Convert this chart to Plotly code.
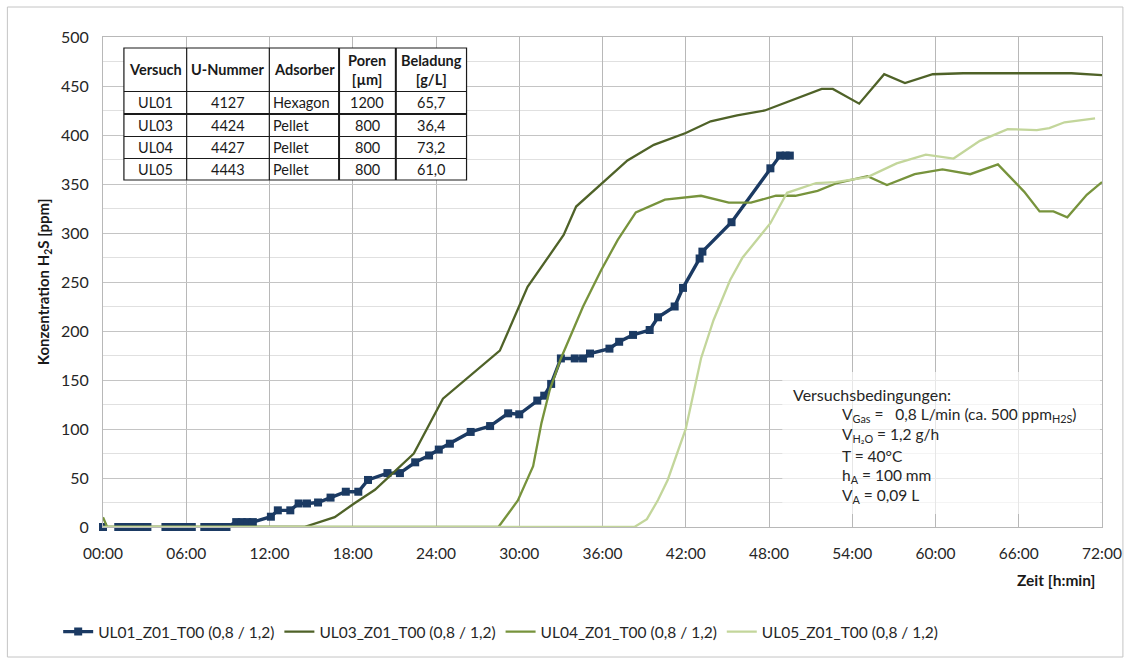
import plotly.graph_objects as go

# ---------------- data (time in hours, concentration in ppm) ----------------
ul01_t = [0, None, 1.1, 1.5, 1.9, 2.4, None, 2.7, 3.2, None, 4.5, 4.9, 5.2, 5.5, None,
          6.0, 6.4, None, 7.3, 7.8, None, 8.2, 8.6, 8.9, 9.6, 10.0, 10.4, 10.8, 12.1,
          12.6, 13.5, 14.1, 14.7, 15.5, 16.4, 17.5, 18.4, 19.1, 20.5, 21.4, 22.5, 23.5,
          24.2, 25.0, 26.5, 27.9, 29.2, 30.0, 31.3, 31.8, 32.3, 33.0, 34.0, 34.6, 35.1,
          36.5, 37.2, 38.2, 39.4, 40.0, 41.2, 41.8, 43.0, 43.2, 45.3, 48.1, 48.8, 49.2, 49.5]
ul01_v = [0, None, 0, 0, 0, 0, None, 0, 0, None, 0, 0, 0, 0, None,
          0, 0, None, 0, 0, None, 0, 0, 0, 5, 5, 5, 5, 10.5,
          17, 17, 24, 24, 25, 30, 36, 36, 48, 55, 55, 66, 73,
          79, 85, 97, 103, 116, 115, 129, 134, 146, 172, 172, 172, 177,
          182, 189, 196, 201, 214, 225, 244, 274, 281, 311, 366, 379, 379, 379]

ul03_t = [0, 14.5, 16.7, 18.1, 19.6, 22.4, 24.5, 28.6, 30.6, 33.2, 34.1, 36.0, 37.8, 39.7,
          42.0, 43.8, 45.7, 47.7, 50.0, 51.8, 52.6, 54.5, 56.3, 57.8, 59.8, 62.0, 69.8, 72.0]
ul03_v = [0, 0, 10, 24, 38, 75, 131, 180, 245, 298, 327, 351, 374, 390,
          402, 414, 420, 425, 437, 447, 447, 432, 462, 453, 462, 463, 463, 461]

ul04_t = [0, 0.3, 28.5, 29.9, 31.0, 31.6, 32.2, 33.0, 34.6, 35.9, 37.1, 38.4, 40.5, 43.1,
          45.1, 46.7, 48.5, 49.9, 51.5, 52.9, 55.1, 56.5, 58.5, 60.5, 62.5, 64.5, 66.4,
          67.5, 68.5, 69.5, 70.9, 72.0]
ul04_v = [10, 0, 0, 27, 62, 106, 140, 172, 225, 262, 293, 321, 334, 338,
          331, 331, 338, 338, 343, 351, 358, 349, 360, 365, 360, 370, 342,
          322, 322, 316, 339, 352]

ul05_t = [0, 38.3, 39.2, 40.0, 40.7, 42.0, 43.1, 44.0, 45.2, 46.1, 48.1, 49.3, 51.4, 52.8,
          55.1, 57.2, 59.3, 61.3, 63.2, 65.2, 67.3, 68.2, 69.3, 71.5]
ul05_v = [0, 0, 8, 27.5, 48, 100, 172, 211, 252, 275, 310, 341, 351, 352,
          357, 371, 380, 376, 394, 406, 405, 407, 413, 417]

series_names = ["UL01_Z01_T00 (0,8 / 1,2)", "UL03_Z01_T00 (0,8 / 1,2)",
                "UL04_Z01_T00 (0,8 / 1,2)", "UL05_Z01_T00 (0,8 / 1,2)"]

x_tickvals = [0, 6, 12, 18, 24, 30, 36, 42, 48, 54, 60, 66, 72]
x_ticktext = ["00:00", "06:00", "12:00", "18:00", "24:00", "30:00", "36:00",
              "42:00", "48:00", "54:00", "60:00", "66:00", "72:00"]

# table contents
tbl_header = ["Versuch", "U-Nummer", "Adsorber", "Poren<br>[µm]", "Beladung<br>[g/L]"]
tbl_versuch = ["UL01", "UL03", "UL04", "UL05"]
tbl_unummer = ["4127", "4424", "4427", "4443"]
tbl_adsorber = ["Hexagon", "Pellet", "Pellet", "Pellet"]
tbl_poren = ["1200", "800", "800", "800"]
tbl_beladung = ["65,7", "36,4", "73,2", "61,0"]

cond_title = "Versuchsbedingungen:"
cond_lines = ["V<sub>Gas</sub> =   0,8 L/min (ca. 500 ppm<sub>H2S</sub>)",
              "V<sub>H₂O</sub> = 1,2 g/h",
              "T = 40°C",
              "h<sub>A</sub> = 100 mm",
              "V<sub>A</sub> = 0,09 L"]

# ---------------- layout geometry (pixels) ----------------
W, H = 1134, 664
L, R, T, B = 103, 1106, 37, 527
PW, PH = R - L, B - T
FONT = "Lato"
TXT = "#262626"


def px(x):
    return (x - L) / PW


def py(y):
    return (B - y) / PH


fig = go.Figure()
fig.add_trace(go.Scatter(x=ul01_t, y=ul01_v, name=series_names[0], mode="lines+markers",
                         line=dict(color="#1B3A63", width=3.4),
                         marker=dict(symbol="square", size=8, color="#1B3A63"),
                         connectgaps=False, cliponaxis=False))
fig.add_trace(go.Scatter(x=ul03_t, y=ul03_v, name=series_names[1], mode="lines",
                         line=dict(color="#4F6228", width=2.3)))
fig.add_trace(go.Scatter(x=ul04_t, y=ul04_v, name=series_names[2], mode="lines",
                         line=dict(color="#77933C", width=2.3)))
fig.add_trace(go.Scatter(x=ul05_t, y=ul05_v, name=series_names[3], mode="lines",
                         line=dict(color="#C3D69B", width=2.3)))

shapes = []
annotations = []

# outer frame
shapes.append(dict(type="rect", xref="paper", yref="paper", x0=px(7), x1=px(1127),
                   y0=py(657), y1=py(7), line=dict(color="#c4c4c4", width=1),
                   fillcolor="rgba(0,0,0,0)", layer="below"))

# conditions box (semi-transparent)
shapes.append(dict(type="rect", xref="paper", yref="paper", x0=px(785), x1=px(1104),
                   y0=py(514), y1=py(372), line=dict(width=0),
                   fillcolor="rgba(255,255,255,0.65)", layer="above"))
annotations.append(dict(xref="paper", yref="paper", x=px(794), y=py(394), text=cond_title,
                        showarrow=False, xanchor="left", yanchor="middle",
                        font=dict(family=FONT, size=16, color=TXT)))
for i, line in enumerate(cond_lines):
    annotations.append(dict(xref="paper", yref="paper", x=px(843), y=py(415 + 20.3 * i),
                            text=line, showarrow=False, xanchor="left", yanchor="middle",
                            font=dict(family=FONT, size=15.5, color=TXT)))

# table
col_x = [124, 187, 270, 340, 397, 468]
row_y = [48, 91.5, 114, 136.5, 158.5, 180]
shapes.append(dict(type="rect", xref="paper", yref="paper", x0=px(col_x[0]), x1=px(col_x[-1]),
                   y0=py(row_y[-1]), y1=py(row_y[0]), fillcolor="white",
                   line=dict(color="#1a1a1a", width=1.2), layer="above"))
thick_cols = {3, 4}
for i, cx in enumerate(col_x[1:-1], start=1):
    shapes.append(dict(type="line", xref="paper", yref="paper", x0=px(cx), x1=px(cx),
                       y0=py(row_y[-1]), y1=py(row_y[0]),
                       line=dict(color="#1a1a1a", width=2 if i in thick_cols else 1.2),
                       layer="above"))
for j, ry in enumerate(row_y[1:-1], start=1):
    shapes.append(dict(type="line", xref="paper", yref="paper", x0=px(col_x[0]), x1=px(col_x[-1]),
                       y0=py(ry), y1=py(ry),
                       line=dict(color="#1a1a1a", width=2 if j == 2 else 1.2), layer="above"))

for c, htxt in enumerate(tbl_header):
    annotations.append(dict(xref="paper", yref="paper",
                            x=px((col_x[c] + col_x[c + 1]) / 2), y=py((row_y[0] + row_y[1]) / 2),
                            text="<b>" + htxt.replace("<br>", "</b><br><b>") + "</b>",
                            showarrow=False, xanchor="center", yanchor="middle",
                            font=dict(family=FONT, size=14.5, color="#1a1a1a")))
columns = [tbl_versuch, tbl_unummer, tbl_adsorber, tbl_poren, tbl_beladung]
for c, col in enumerate(columns):
    for r, val in enumerate(col):
        yc = py((row_y[r + 1] + row_y[r + 2]) / 2)
        if c == 2:
            annotations.append(dict(xref="paper", yref="paper", x=px(col_x[c] + 2), y=yc,
                                    text=val, showarrow=False, xanchor="left", yanchor="middle",
                                    font=dict(family=FONT, size=14.5, color="#1a1a1a")))
        else:
            annotations.append(dict(xref="paper", yref="paper",
                                    x=px((col_x[c] + col_x[c + 1]) / 2), y=yc,
                                    text=val, showarrow=False, xanchor="center", yanchor="middle",
                                    font=dict(family=FONT, size=14.5, color="#1a1a1a")))

# axis titles
annotations.append(dict(xref="paper", yref="paper", x=px(1101), y=py(580),
                        text="<b>Zeit [h:min]</b>", showarrow=False, xanchor="right",
                        yanchor="middle", font=dict(family=FONT, size=15.5, color="#1a1a1a")))
annotations.append(dict(xref="paper", yref="paper", x=px(44), y=py(282),
                        text="<b>Konzentration H<sub>2</sub>S [ppm]</b>", showarrow=False,
                        textangle=-90, xanchor="center", yanchor="middle",
                        font=dict(family=FONT, size=15, color="#1a1a1a")))

fig.update_layout(
    width=W, height=H,
    margin=dict(l=L, r=W - R, t=T, b=H - B, pad=0),
    paper_bgcolor="white", plot_bgcolor="white",
    font=dict(family=FONT, size=15, color=TXT),
    shapes=shapes, annotations=annotations,
    showlegend=True,
    legend=dict(orientation="h", x=px(58), y=py(632), xanchor="left", yanchor="middle",
                font=dict(family=FONT, size=15.5, color=TXT),
                itemwidth=30, tracegroupgap=0,
                bgcolor="rgba(0,0,0,0)"),
    xaxis=dict(range=[0, 72], tickvals=x_tickvals, ticktext=x_ticktext,
               showgrid=True, gridcolor="#b8b8b8", gridwidth=1, zeroline=False,
               showline=True, linecolor="#b8b8b8", mirror=True, ticks="",
               ticklabelstandoff=12,
               tickfont=dict(family=FONT, size=15.5, color=TXT)),
    yaxis=dict(range=[0, 500], dtick=50, showgrid=True, gridcolor="#c4c4c4", gridwidth=1,
               zeroline=False, showline=True, linecolor="#b8b8b8", mirror=True, ticks="",
               ticklabelstandoff=10,
               minor=dict(dtick=25, showgrid=True, gridcolor="#e0e0e0", gridwidth=1),
               tickfont=dict(family=FONT, size=16, color=TXT)),
)

fig.write_html("out.html")
